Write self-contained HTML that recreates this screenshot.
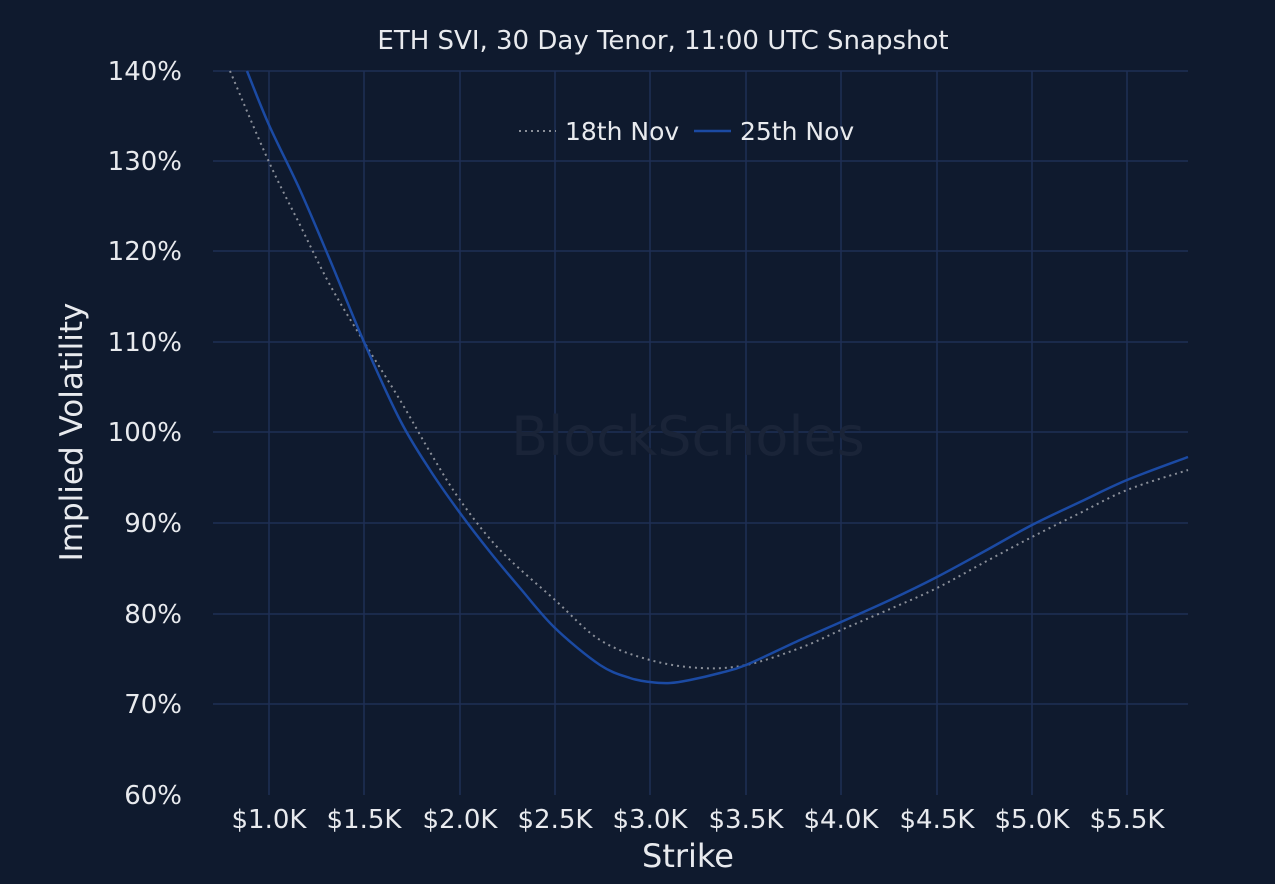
<!DOCTYPE html>
<html><head><style>
body{margin:0;background:#0f1a2e;}
svg{display:block;font-family:"DejaVu Sans","Liberation Sans",sans-serif;}
</style></head><body>
<svg width="1275" height="884" viewBox="0 0 1275 884">
<rect width="1275" height="884" fill="#0f1a2e"/>
<g stroke="#1f2f55" stroke-width="1.5">
<line x1="213" x2="1188" y1="71" y2="71"/><line x1="213" x2="1188" y1="161" y2="161"/>
<line x1="213" x2="1188" y1="251" y2="251"/><line x1="213" x2="1188" y1="342" y2="342"/>
<line x1="213" x2="1188" y1="432" y2="432"/><line x1="213" x2="1188" y1="523" y2="523"/>
<line x1="213" x2="1188" y1="614" y2="614"/><line x1="213" x2="1188" y1="704" y2="704"/>
<line x1="269" x2="269" y1="71" y2="795"/><line x1="364" x2="364" y1="71" y2="795"/>
<line x1="460" x2="460" y1="71" y2="795"/><line x1="555" x2="555" y1="71" y2="795"/>
<line x1="650" x2="650" y1="71" y2="795"/><line x1="746" x2="746" y1="71" y2="795"/>
<line x1="841" x2="841" y1="71" y2="795"/><line x1="937" x2="937" y1="71" y2="795"/>
<line x1="1032" x2="1032" y1="71" y2="795"/><line x1="1127" x2="1127" y1="71" y2="795"/>
</g>
<text x="688" y="455" font-size="54" fill="#1a2438" text-anchor="middle">BlockScholes</text>
<path id="grey" fill="none" stroke="#8a8f99" stroke-width="2" stroke-dasharray="2,4"/>
<path id="blue" fill="none" stroke="#1b4aa3" stroke-width="2.5"/>
<text x="663" y="49" font-size="26" fill="#e8eaee" text-anchor="middle">ETH SVI, 30 Day Tenor, 11:00 UTC Snapshot</text>
<line x1="519" x2="556" y1="131" y2="131" stroke="#8a8f99" stroke-width="2" stroke-dasharray="2,4"/>
<text x="565" y="140" font-size="25" fill="#e8eaee">18th Nov</text>
<line x1="694" x2="731" y1="131" y2="131" stroke="#1b4aa3" stroke-width="2.5"/>
<text x="740" y="140" font-size="25" fill="#e8eaee">25th Nov</text>
<g font-size="26" fill="#e8eaee" text-anchor="end">
<text x="182" y="80">140%</text><text x="182" y="170">130%</text><text x="182" y="260">120%</text>
<text x="182" y="351">110%</text><text x="182" y="441">100%</text><text x="182" y="532">90%</text>
<text x="182" y="623">80%</text><text x="182" y="713">70%</text><text x="182" y="804">60%</text>
</g>
<g font-size="26" fill="#e8eaee" text-anchor="middle">
<text x="269" y="828">$1.0K</text><text x="364" y="828">$1.5K</text><text x="460" y="828">$2.0K</text>
<text x="555" y="828">$2.5K</text><text x="650" y="828">$3.0K</text><text x="746" y="828">$3.5K</text>
<text x="841" y="828">$4.0K</text><text x="937" y="828">$4.5K</text><text x="1032" y="828">$5.0K</text>
<text x="1127" y="828">$5.5K</text>
</g>
<text x="688" y="867" font-size="32" fill="#e8eaee" text-anchor="middle">Strike</text>
<text transform="translate(82,432) rotate(-90)" font-size="31" fill="#e8eaee" text-anchor="middle">Implied Volatility</text>
</svg>
<script>
function cr(p){var d="M"+p[0][0]+","+p[0][1];for(var i=0;i<p.length-1;i++){var a=p[i-1]||p[i],b=p[i],c=p[i+1],e=p[i+2]||c;
d+=" C"+(b[0]+(c[0]-a[0])/6)+","+(b[1]+(c[1]-a[1])/6)+" "+(c[0]-(e[0]-b[0])/6)+","+(c[1]-(e[1]-b[1])/6)+" "+c[0]+","+c[1];}return d;}
var g=[[230,71],[269,162],[300,225],[330,285],[364,342],[400,400],[430,452],[460,500],[500,550],[555,600],[600,640],[650,660],[700,668],[746,665],[800,648],[841,630],[890,609],[937,588],[985,562],[1032,537],[1080,513],[1127,490],[1188,470]];
var b=[[247,71],[269,125],[300,190],[330,260],[364,342],[400,420],[430,470],[460,513],[490,552],[520,588],[555,628],[600,665],[630,678],[650,682],[670,683],[690,680],[720,673],[746,665],[800,640],[841,622],[890,600],[937,577],[985,551],[1032,525],[1080,502],[1127,480],[1188,457]];
document.getElementById("grey").setAttribute("d",cr(g));
document.getElementById("blue").setAttribute("d",cr(b));
</script>
</body></html>
